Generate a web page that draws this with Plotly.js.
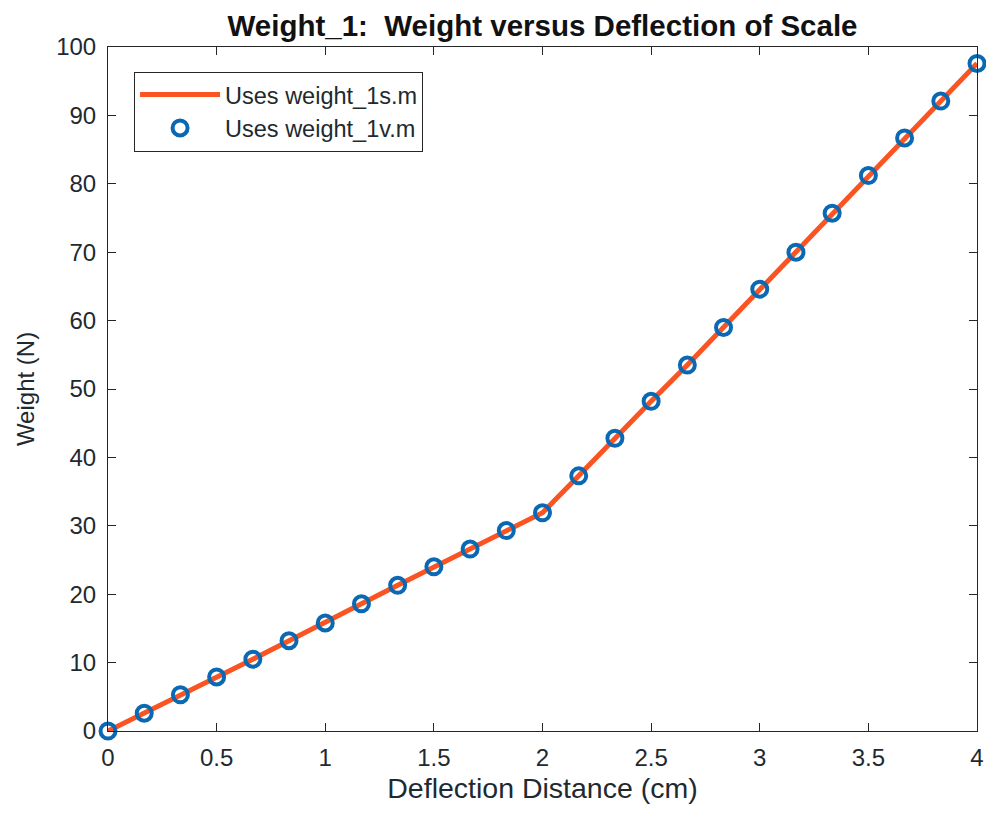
<!DOCTYPE html>
<html>
<head>
<meta charset="utf-8">
<script src="https://cdn.plot.ly/plotly-3.0.1.min.js"></script>
<style>html,body{margin:0;padding:0;background:#fff;}#chart{width:986px;height:819px;}</style>
</head>
<body>
<div id="chart"></div>
<script>
const deflection = [0, 0.1667, 0.3333, 0.5, 0.6667, 0.8333, 1, 1.1667, 1.3333, 1.5, 1.6667, 1.8333, 2,
  2.1667, 2.3333, 2.5, 2.6667, 2.8333, 3, 3.1667, 3.3333, 3.5, 3.6667, 3.8333, 4];
const weightS = [0, 2.6, 5.3, 7.9, 10.5, 13.2, 15.8, 18.6, 21.3, 24.0, 26.6, 29.3, 31.9,
  37.3, 42.8, 48.2, 53.5, 59.0, 64.6, 70.0, 75.7, 81.2, 86.7, 92.1, 97.6];
const weightV = weightS.slice();
const xTicks = [0, 0.5, 1, 1.5, 2, 2.5, 3, 3.5, 4];
const xTickText = ['0', '0.5', '1', '1.5', '2', '2.5', '3', '3.5', '4'];
const yTicks = [0, 10, 20, 30, 40, 50, 60, 70, 80, 90, 100];

const fontFam = 'Liberation Sans, Arial, sans-serif';
const textCol = '#1e2a30';

const traces = [
  {x: deflection, y: weightS, mode: 'lines', name: 'Uses weight_1s.m',
   line: {color: '#fb5423', width: 5}, cliponaxis: false},
  {x: deflection, y: weightV, mode: 'markers', name: 'Uses weight_1v.m',
   marker: {symbol: 'circle-open', size: 15, color: '#0b69b3', line: {width: 4, color: '#0b69b3'}},
   cliponaxis: false}
];

const axisCommon = {
  showgrid: false, zeroline: false, showline: true, mirror: 'ticks',
  linecolor: '#262626', linewidth: 1, ticks: 'inside', ticklen: 8, tickcolor: '#262626',
  tickfont: {family: fontFam, size: 24, color: textCol}
};

const layout = {
  width: 986, height: 819,
  margin: {l: 108, r: 9, t: 47, b: 88},
  paper_bgcolor: '#fff', plot_bgcolor: '#fff',
  showlegend: true,
  title: {text: '<b>Weight_1:  Weight versus Deflection of Scale</b>', xref: 'paper', x: 0.5, xanchor: 'center',
    y: 0.969, yanchor: 'middle', font: {family: fontFam, size: 29.5, color: '#111'}},
  xaxis: Object.assign({}, axisCommon, {range: [0, 4], tickvals: xTicks, ticktext: xTickText,
    ticklabelstandoff: 5,
    title: {text: 'Deflection Distance (cm)', standoff: 8, font: {family: fontFam, size: 28.5, color: textCol}}}),
  yaxis: Object.assign({}, axisCommon, {range: [0, 100], tickvals: yTicks, ticklabelstandoff: 6,
    title: {text: 'Weight (N)', standoff: 14, font: {family: fontFam, size: 24, color: textCol}}}),
  legend: {x: 0.03, y: 0.964, xanchor: 'left', yanchor: 'top', bgcolor: '#fff',
    bordercolor: '#262626', borderwidth: 1, font: {family: fontFam, size: 23.5, color: textCol},
    tracegroupgap: 0, itemwidth: 80}
};

Plotly.newPlot('chart', traces, layout, {staticPlot: true, displayModeBar: false});
</script>
</body>
</html>
